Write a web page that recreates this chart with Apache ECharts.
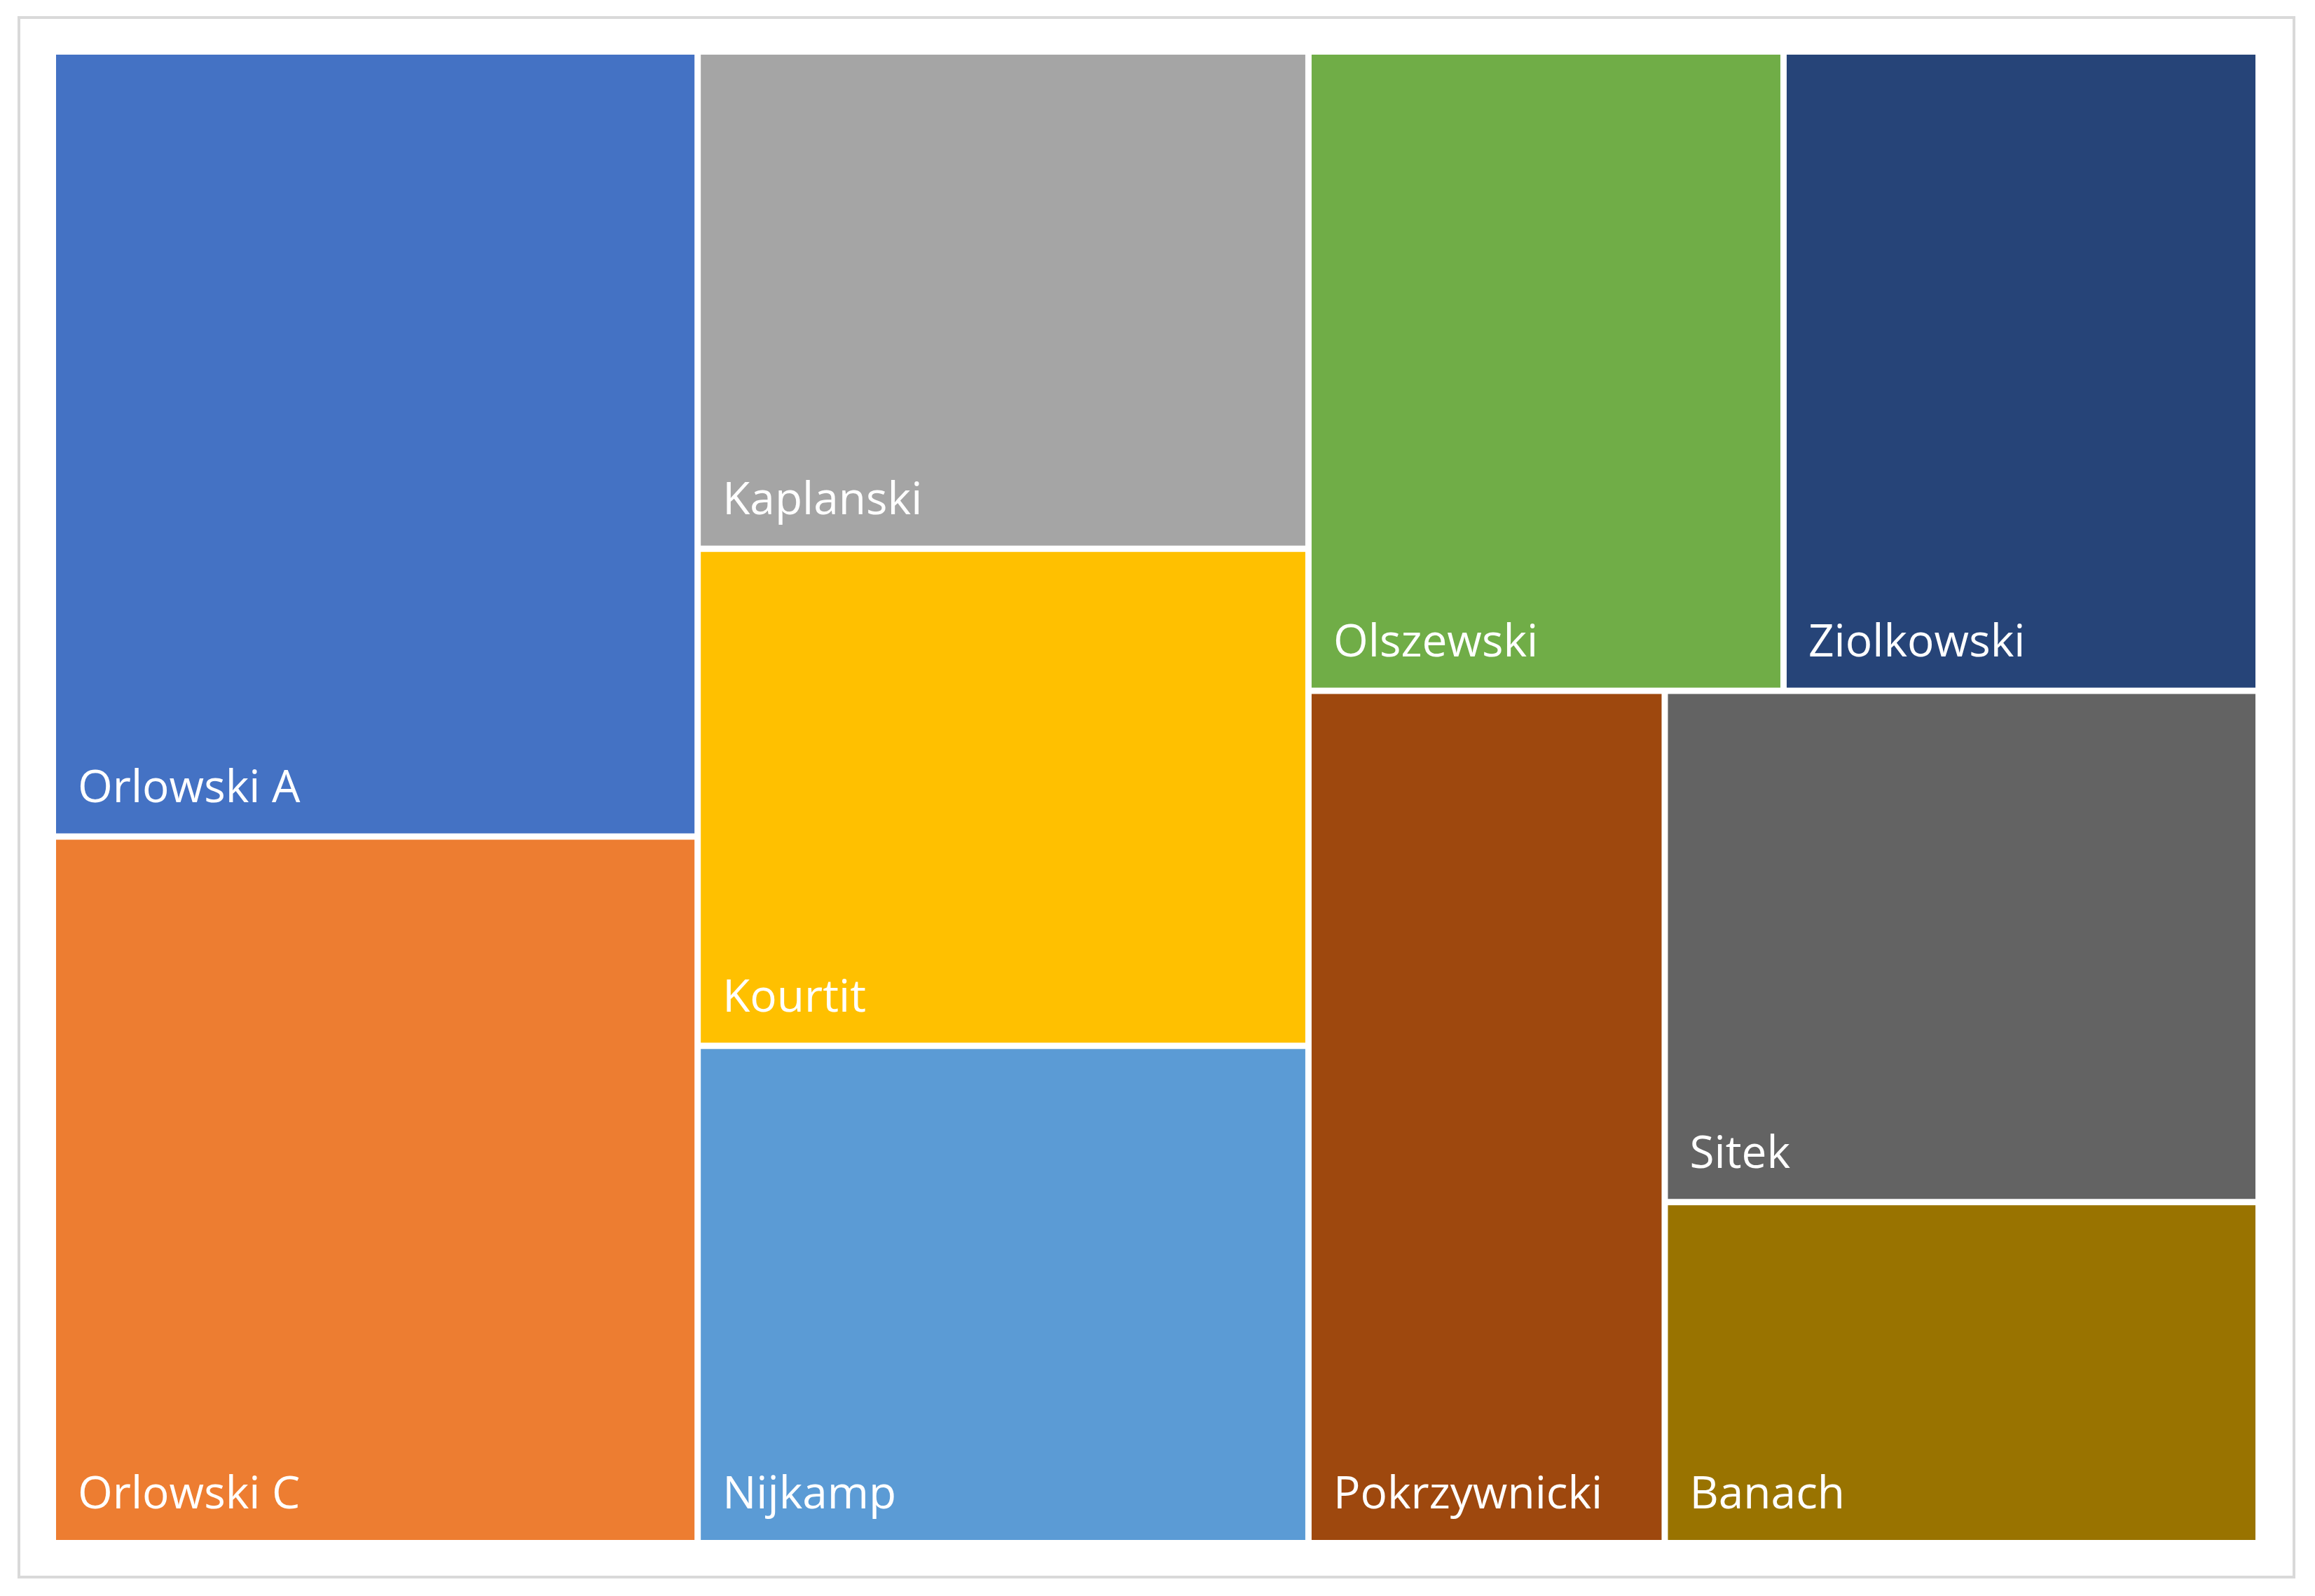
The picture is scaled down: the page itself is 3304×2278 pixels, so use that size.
<!DOCTYPE html>
<html>
<head>
<meta charset="utf-8">
<script src="https://cdn.jsdelivr.net/npm/echarts@6/dist/echarts.min.js"></script>
<style>
  html, body { margin: 0; padding: 0; background: #fff; }
  #chart-container { width: 3304px; height: 2278px; }
</style>
</head>
<body>
<div id="chart-container"></div>
<script>
'use strict';

const names = ['Orlowski A', 'Orlowski C', 'Kaplanski', 'Kourtit', 'Nijkamp',
    'Olszewski', 'Ziolkowski', 'Pokrzywnicki', 'Sitek', 'Banach'];
const values = [5, 4.5, 3, 3, 3, 3, 3, 3, 3, 2];
const colors = ['#4472C4', '#ED7D31', '#A5A5A5', '#FFC000', '#5B9BD5',
    '#70AD47', '#264478', '#9E480E', '#636363', '#997300'];

const myChart = echarts.init(document.getElementById('chart-container'), null, { renderer: 'canvas' });

const option = {
    backgroundColor: '#fff',
    graphic: [{
        type: 'rect',
        shape: { x: 27, y: 25, width: 3247, height: 2226 },
        style: { fill: 'none', stroke: '#d9d9d9', lineWidth: 4 }
    }],
    series: [{
        type: 'treemap',
        left: 80,
        top: 78,
        right: 85,
        bottom: 80,
        roam: false,
        nodeClick: false,
        breadcrumb: { show: false },
        sort: false,
        squareRatio: 0.83,
        levels: [{
            itemStyle: { gapWidth: 9, borderWidth: 0 }
        }],
        label: {
            show: true,
            position: 'insideBottomLeft',
            distance: 26,
            color: '#fff',
            fontFamily: 'Open Sans',
            fontSize: 64,
            formatter: '{b}'
        },
        itemStyle: { borderWidth: 0 },
        data: names.map((n, i) => ({
            name: n,
            value: values[i],
            itemStyle: { color: colors[i] }
        }))
    }]
};
myChart.setOption(option);
</script>
</body>
</html>
